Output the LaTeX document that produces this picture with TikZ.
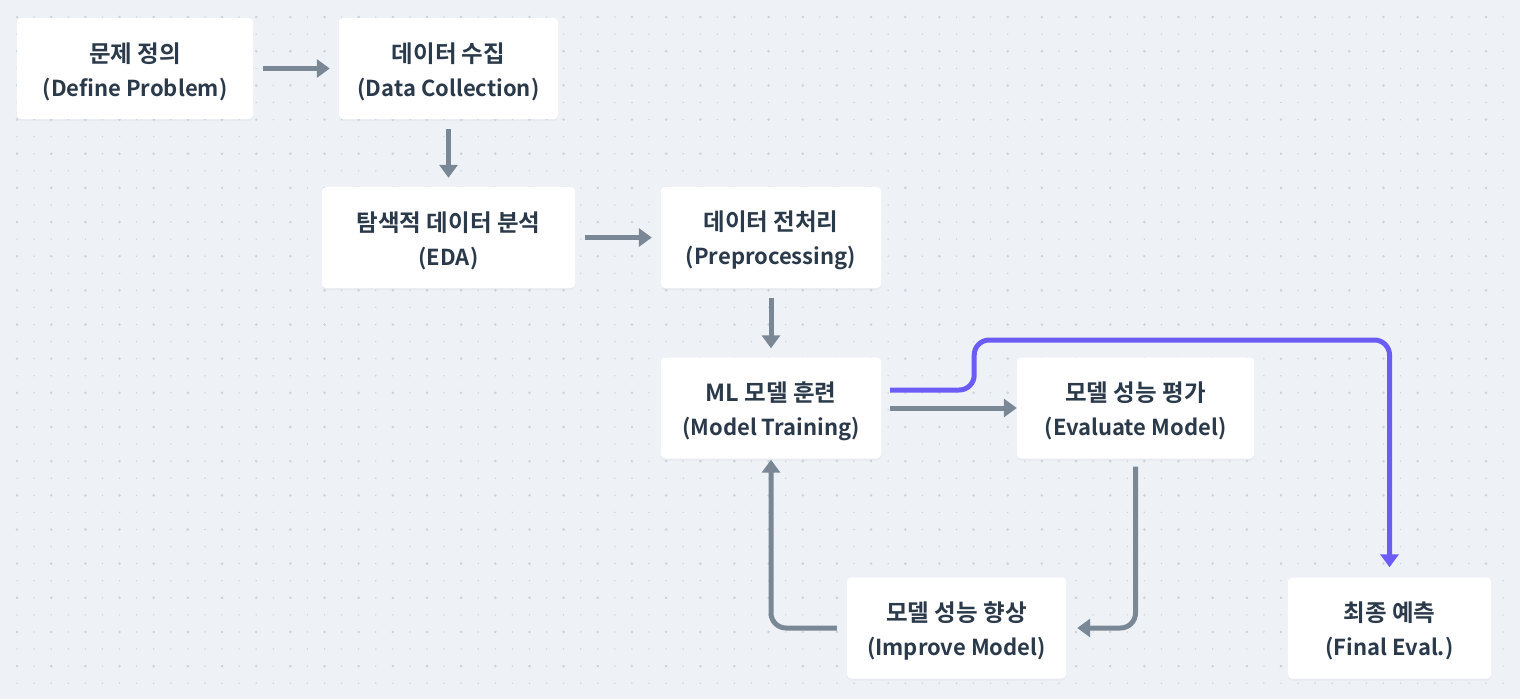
\documentclass[tikz,border=0pt]{standalone}
\usepackage{fontspec}
\newfontfamily\krfont{Noto Sans CJK KR}[BoldFont={* Bold}]
\usetikzlibrary{arrows.meta,shadows}

\definecolor{bgpaper}{HTML}{EEF2F6}
\definecolor{griddot}{HTML}{CBD3DD}
\definecolor{flowgray}{HTML}{7A8896}
\definecolor{flowpurple}{HTML}{6B5CF6}
\definecolor{inkdark}{HTML}{2B3A4A}

\newcommand{\krline}[1]{{\fontsize{23.5}{34}\selectfont #1}}

\tikzset{
  stagebox/.style={draw=none, fill=white, rounded corners=4pt,
    minimum height=101pt, inner sep=0pt,
    drop shadow={opacity=0.06, shadow xshift=0pt, shadow yshift=-2pt}},
  stagetext/.style={align=center, inner sep=0pt, text=inkdark, yshift=-3pt,
    font=\krfont\bfseries\fontsize{22}{34}\selectfont},
  flow/.style={draw=flowgray, line width=5pt, rounded corners=15pt,
    -{Triangle[length=13pt,width=18pt]}},
  finalflow/.style={flow, draw=flowpurple},
}

\begin{document}
\begin{tikzpicture}[x=1pt,y=-1pt]
\useasboundingbox (0,0) rectangle (1520,699);
\fill[bgpaper] (0,0) rectangle (1520,699);

% dotted paper
\foreach \i in {1,...,88}{
  \foreach \j in {1,...,40}{
    \fill[griddot] (\i*17.08,\j*17.08) circle (0.8pt);
  }
}
\foreach \i in {1,...,44}{
  \foreach \j in {1,...,20}{
    \fill[griddot] (\i*34.16-17.08,\j*34.16-17.08) circle (1.4pt);
  }
}

% stages
\node[stagebox, minimum width=236pt, label={[stagetext]center:\krline{문제 정의}\\(Define Problem)}] (problem) at (135,68.5) {};
\node[stagebox, minimum width=219pt, label={[stagetext]center:\krline{데이터 수집}\\(Data Collection)}] (collect) at (448.5,68.5) {};
\node[stagebox, minimum width=253pt, label={[stagetext]center:\krline{탐색적 데이터 분석}\\(EDA)}] (eda) at (448.5,237.5) {};
\node[stagebox, minimum width=220pt, label={[stagetext]center:\krline{데이터 전처리}\\(Preprocessing)}] (prep) at (771,237.5) {};
\node[stagebox, minimum width=220pt, label={[stagetext]center:\krline{ML 모델 훈련}\\(Model Training)}] (train) at (771,408) {};
\node[stagebox, minimum width=237pt, label={[stagetext]center:\krline{모델 성능 평가}\\(Evaluate Model)}] (evaluate) at (1135.5,408) {};
\node[stagebox, minimum width=219pt, label={[stagetext]center:\krline{모델 성능 향상}\\(Improve Model)}] (improve) at (956.5,628) {};
\node[stagebox, minimum width=203pt, label={[stagetext]center:\krline{최종 예측}\\(Final Eval.)}] (final) at (1389.5,628) {};

% connectors
\draw[flow, shorten <=10pt, shorten >=9pt] (problem) -- (collect);
\draw[flow, shorten <=10pt, shorten >=9pt] (collect) -- (eda);
\draw[flow, shorten <=10pt, shorten >=9pt] (eda) -- (prep);
\draw[flow, shorten <=10pt, shorten >=9pt] (prep) -- (train);
\draw[flow, shorten <=9pt] (train) -- (evaluate);
\draw[flow, shorten <=8pt, shorten >=11pt] (evaluate.south) |- (improve.east);
\draw[flow, shorten <=10pt, shorten >=1pt] (improve.west) -| (train.south);
\draw[finalflow, shorten <=9pt, shorten >=10pt]
  ([yshift=18pt]train.east) -- ++(93,0) -- ++(0,-50) -| (final.north);
\end{tikzpicture}
\end{document}
